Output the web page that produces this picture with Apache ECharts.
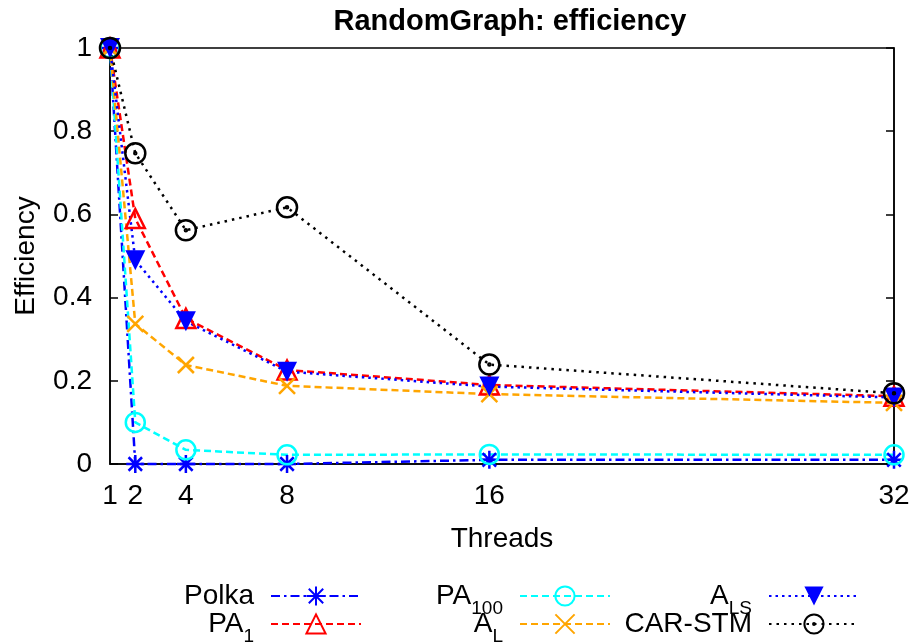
<!DOCTYPE html>
<html>
<head>
<meta charset="utf-8">
<script src="https://cdn.jsdelivr.net/npm/echarts@6/dist/echarts.min.js"></script>
<style>
html,body{margin:0;padding:0;background:#fff;}
#chart{width:917px;height:643px;}
</style>
</head>
<body>
<div id="chart"></div>
<script>
// ---- data ----
var threads = [1, 2, 4, 8, 16, 32];
var xTickLabels = [1, 2, 4, 8, 16, 32];
var yTicks = [0, 0.2, 0.4, 0.6, 0.8, 1];
var polka  = [1, 0.0, 0.0, 0.0, 0.01, 0.01];
var pa1    = [1, 0.59, 0.35, 0.226, 0.19, 0.163];
var pa100  = [1, 0.10, 0.034, 0.022, 0.023, 0.022];
var aL     = [1, 0.337, 0.238, 0.188, 0.168, 0.147];
var aLS    = [1, 0.49, 0.343, 0.222, 0.186, 0.16];
var carStm = [1, 0.747, 0.562, 0.617, 0.239, 0.17];

function pairs(vals){ return threads.map(function(t,i){ return [t, vals[i]]; }); }

var FONT = '"Liberation Sans", Arial, Helvetica, sans-serif';
var asteriskPath = 'path://M0 -10 L0 10 M-10 0 L10 0 M-7.5 -7.5 L7.5 7.5 M-7.5 7.5 L7.5 -7.5';
var crossPath = 'path://M-10 -10 L10 10 M-10 10 L10 -10';
var dotCirclePath = 'path://M10 0 A10 10 0 1 1 -10 0 A10 10 0 1 1 10 0 Z M1 0 A1 1 0 1 1 -1 0 A1 1 0 1 1 1 0 Z';
var CLEAR = 'rgba(0,0,0,0)';

function mkSeries(name, vals, color, dash, symbol, size, filled, rotate){
  return {
    name: name, type: 'line', data: pairs(vals),
    symbol: symbol, symbolSize: size, symbolRotate: rotate || 0,
    clip: false, animation: false,
    lineStyle: { color: color, width: 2.5, type: dash },
    itemStyle: filled ? { color: color, borderWidth: 0 }
                      : { color: CLEAR, borderColor: color, borderWidth: 2.5 },
    emphasis: { disabled: true }
  };
}

var series = [
  mkSeries('Polka', polka, '#0000ff', [9,4,2.5,4], asteriskPath, 18, false),
  mkSeries('PA1', pa1, '#ff0000', [7,4], 'triangle', 19, false),
  mkSeries('PA100', pa100, '#00ffff', [7,4], 'circle', 19, false),
  mkSeries('AL', aL, '#ffa500', [7,4], crossPath, 16, false),
  mkSeries('ALS', aLS, '#0000ff', [2.5,4], 'triangle', 20, true, 180),
  mkSeries('CAR-STM', carStm, '#000000', [2.5,5], dotCirclePath, 20, false)
];

var labelMap = {
  'Polka': '{a|Polka}{s|\u200b}',
  'PA1': '{a|PA}{s|1}',
  'PA100': '{a|PA}{s|100}',
  'AL': '{a|A}{s|L}',
  'ALS': '{a|A}{s|LS}',
  'CAR-STM': '{a|CAR-STM}{s|\u200b}'
};
var legendText = {
  color: '#000', fontFamily: FONT, padding: [0, 12, 0, 0],
  rich: {
    a: { fontSize: 28, lineHeight: 28, verticalAlign: 'top', fontFamily: FONT, color: '#000' },
    s: { fontSize: 19, lineHeight: 20, verticalAlign: 'top', padding: [17, 0, 0, 0], fontFamily: FONT, color: '#000' }
  }
};
function mkLegend(name, right, top){
  return {
    data: [name], orient: 'vertical', align: 'right', right: right, top: top,
    itemWidth: 90, itemHeight: 24, itemGap: 0, padding: 0,
    selectedMode: false, textStyle: legendText,
    formatter: function(n){ return labelMap[n]; }
  };
}
var ROW1 = 582, ROW2 = 610;

var chart = echarts.init(document.getElementById('chart'), null, {renderer: 'canvas'});
chart.setOption({
  backgroundColor: '#fff',
  animation: false,
  title: {
    text: 'RandomGraph: efficiency', left: 505, top: 2, textAlign: 'center',
    textStyle: { fontFamily: FONT, fontSize: 29, fontWeight: 'bold', color: '#000' }
  },
  grid: { left: 110, right: 23, top: 48, bottom: 179, show: true, borderColor: '#000', borderWidth: 1.5, containLabel: false },
  legend: [
    mkLegend('Polka', 917 - 362, ROW1),
    mkLegend('PA1', 917 - 362, ROW2),
    mkLegend('PA100', 917 - 611, ROW1),
    mkLegend('AL', 917 - 611, ROW2),
    mkLegend('ALS', 917 - 860, ROW1),
    mkLegend('CAR-STM', 917 - 860, ROW2)
  ],
  xAxis: {
    type: 'value', min: 1, max: 32,
    name: 'Threads', nameLocation: 'middle', nameGap: 61,
    nameTextStyle: { fontFamily: FONT, fontSize: 28, color: '#000' },
    axisLine: { show: true, lineStyle: { color: '#000', width: 1.5 } },
    axisTick: { show: false },
    splitLine: { show: false },
    axisLabel: { customValues: xTickLabels, fontFamily: FONT, fontSize: 28, color: '#000', margin: 18 }
  },
  yAxis: [{
    type: 'value', min: 0, max: 1, interval: 0.2,
    name: 'Efficiency', nameLocation: 'middle', nameGap: 70, nameRotate: 90,
    nameTextStyle: { fontFamily: FONT, fontSize: 28, color: '#000' },
    axisLine: { show: true, lineStyle: { color: '#000', width: 1.5 } },
    axisTick: { show: true, inside: true, length: 8, lineStyle: { color: '#000', width: 1.5 } },
    splitLine: { show: false },
    axisLabel: { fontFamily: FONT, fontSize: 28, color: '#000', margin: 18,
      formatter: function(v){ return String(Math.round(v*10)/10); } }
  }, {
    type: 'value', min: 0, max: 1, interval: 0.2, position: 'right',
    axisLine: { show: true, lineStyle: { color: '#000', width: 1.5 } },
    axisTick: { show: true, inside: true, length: 8, lineStyle: { color: '#000', width: 1.5 } },
    splitLine: { show: false },
    axisLabel: { show: false }
  }],
  series: series
});
</script>
</body>
</html>
